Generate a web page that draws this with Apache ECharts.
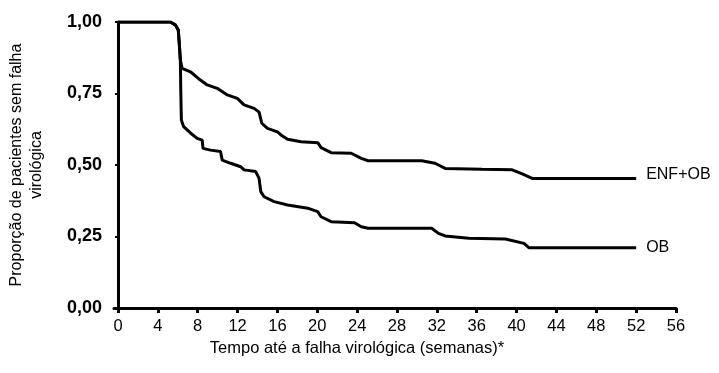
<!DOCTYPE html>
<html>
<head>
<meta charset="utf-8">
<script src="https://cdn.jsdelivr.net/npm/echarts@6/dist/echarts.min.js"></script>
<style>html,body{margin:0;padding:0;background:#fff}#c{width:719px;height:373px}</style>
</head>
<body>
<div id="c"></div>
<script>
var xTicks = [0,4,8,12,16,20,24,28,32,36,40,44,48,52,56];
var yTicks = [0,0.25,0.5,0.75,1];
var seriesNames = ['ENF+OB','OB'];
var enfWeeks = [0,5.25,5.75,6.05,6.16,6.26,6.43,7.27,8.27,8.95,9.96,10.97,11.98,12.65,13.66,14.16,14.43,15.0,16.0,16.35,17.02,18.37,20.05,20.38,21.39,23.41,24.42,25.1,30.47,31.82,32.83,36.53,39.56,40.57,41.57,52];
var enfValues = [1,1,0.99,0.972,0.92,0.867,0.838,0.826,0.797,0.78,0.768,0.745,0.733,0.71,0.698,0.685,0.646,0.628,0.616,0.605,0.59,0.581,0.578,0.561,0.543,0.541,0.523,0.515,0.515,0.506,0.488,0.485,0.483,0.469,0.453,0.453];
var obWeeks = [0,5.25,5.75,6.05,6.16,6.26,6.3,6.36,6.59,7.27,7.94,8.45,8.53,9.28,10.29,10.46,11.3,12.31,12.65,13.82,14.16,14.33,14.66,15.67,17.02,19.04,20.04,20.38,21.39,23.74,24.42,25.1,31.48,32.16,32.83,35.19,38.88,40.74,41.23,52];
var obValues = [1,1,0.99,0.972,0.92,0.867,0.762,0.657,0.634,0.612,0.593,0.587,0.558,0.552,0.547,0.517,0.506,0.494,0.483,0.477,0.453,0.407,0.389,0.372,0.36,0.349,0.337,0.319,0.302,0.298,0.284,0.279,0.279,0.261,0.252,0.244,0.241,0.226,0.211,0.211];

function pairs(xs, ys){ return xs.map(function(x,i){ return [x, ys[i]]; }); }

var chart = echarts.init(document.getElementById('c'));
var lineStyle = {color:'#000', width:3};
function mk(name, xs, ys, off){
  return {
    type:'line', name:name, data:pairs(xs,ys), showSymbol:false, symbol:'none',
    lineStyle:lineStyle, itemStyle:{color:'#000'}, animation:false,
    endLabel:{show:true, formatter:'{a}', distance:10, color:'#000', offset:off,
      fontFamily:'Liberation Sans, Arial, sans-serif', fontSize:16}
  };
}
chart.setOption({
  animation:false,
  backgroundColor:'#fff',
  grid:{left:114, right:43, top:22, bottom:65, outerBoundsMode:'none', containLabel:false},
  xAxis:{
    type:'value', min:-0.4, max:56,
    name:'Tempo até a falha virológica (semanas)*',
    nameLocation:'middle', nameGap:31,
    nameTextStyle:{color:'#000', fontFamily:'Liberation Sans, Arial, sans-serif', fontSize:16.5, padding:[0,76,0,0]},
    axisLine:{show:true, onZero:false, lineStyle:{color:'#000', width:3}},
    axisTick:{show:true, customValues:xTicks, length:5, lineStyle:{color:'#000', width:3}},
    axisLabel:{customValues:xTicks, color:'#000', margin:10,
      fontFamily:'Liberation Sans, Arial, sans-serif', fontSize:16.5},
    splitLine:{show:false}
  },
  yAxis:{
    type:'value', min:0, max:1, interval:0.25,
    name:'Proporção de pacientes sem falha\nvirológica',
    nameLocation:'middle', nameRotate:90, nameGap:67,
    nameTextStyle:{color:'#000', fontFamily:'Liberation Sans, Arial, sans-serif', fontSize:16, lineHeight:20},
    axisLine:{show:true, lineStyle:{color:'#000', width:3}},
    axisTick:{show:true, length:3, lineStyle:{color:'#000', width:2}},
    axisLabel:{color:'#000', margin:12, fontWeight:'bold',
      fontFamily:'Liberation Sans, Arial, sans-serif', fontSize:18,
      formatter:function(v){ return v.toFixed(2).replace('.',','); }},
    splitLine:{show:false}
  },
  series:[mk(seriesNames[0], enfWeeks, enfValues, [0,-4]), mk(seriesNames[1], obWeeks, obValues, [0,0])]
});
</script>
</body>
</html>
